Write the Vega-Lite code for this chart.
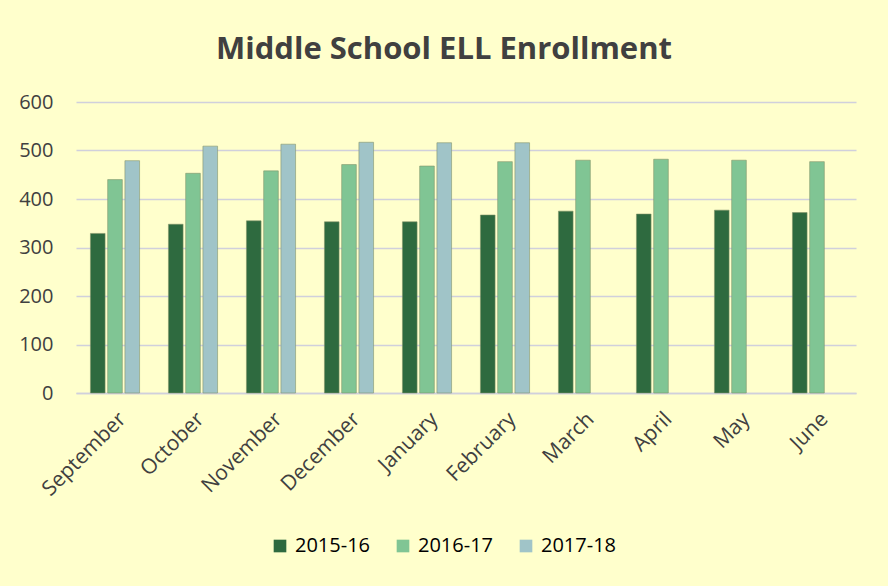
{
  "$schema": "https://vega.github.io/schema/vega-lite/v6.json",
  "autosize": "none",
  "width": 780,
  "height": 291,
  "padding": {"left": 76, "top": 102, "right": 32, "bottom": 193},
  "background": "#FFFFCC",
  "title": {
    "text": "Middle School ELL Enrollment",
    "font": "Open Sans",
    "fontSize": 31,
    "fontWeight": "bold",
    "color": "#404040",
    "anchor": "middle",
    "offset": 26,
    "dx": -22
  },
  "data": {
    "values": [
      {"month": "September", "year": "2015-16", "value": 329},
      {"month": "September", "year": "2016-17", "value": 440},
      {"month": "September", "year": "2017-18", "value": 479},
      {"month": "October", "year": "2015-16", "value": 348},
      {"month": "October", "year": "2016-17", "value": 453},
      {"month": "October", "year": "2017-18", "value": 509},
      {"month": "November", "year": "2015-16", "value": 355},
      {"month": "November", "year": "2016-17", "value": 458},
      {"month": "November", "year": "2017-18", "value": 513},
      {"month": "December", "year": "2015-16", "value": 353},
      {"month": "December", "year": "2016-17", "value": 471},
      {"month": "December", "year": "2017-18", "value": 517},
      {"month": "January", "year": "2015-16", "value": 353},
      {"month": "January", "year": "2016-17", "value": 468},
      {"month": "January", "year": "2017-18", "value": 516},
      {"month": "February", "year": "2015-16", "value": 367},
      {"month": "February", "year": "2016-17", "value": 477},
      {"month": "February", "year": "2017-18", "value": 516},
      {"month": "March", "year": "2015-16", "value": 375},
      {"month": "March", "year": "2016-17", "value": 480},
      {"month": "April", "year": "2015-16", "value": 369},
      {"month": "April", "year": "2016-17", "value": 482},
      {"month": "May", "year": "2015-16", "value": 377},
      {"month": "May", "year": "2016-17", "value": 480},
      {"month": "June", "year": "2015-16", "value": 372},
      {"month": "June", "year": "2016-17", "value": 477}
    ]
  },
  "mark": {"type": "bar", "stroke": "#7f8f66", "strokeWidth": 0.8, "strokeOpacity": 0.7},
  "encoding": {
    "x": {
      "field": "month",
      "type": "nominal",
      "sort": null,
      "title": null,
      "scale": {"paddingInner": 0.37, "paddingOuter": 0.185},
      "axis": {
        "labelAngle": -45,
        "labelFont": "Open Sans",
        "labelFontSize": 21,
        "labelColor": "#404040",
        "ticks": false,
        "domain": true,
        "domainColor": "#d0d0dc",
        "domainWidth": 1.5,
        "labelPadding": 15,
        "labelDx": -5,
        "labelDy": 2
      }
    },
    "xOffset": {
      "field": "year",
      "type": "nominal",
      "scale": {"paddingInner": 0.15}
    },
    "y": {
      "field": "value",
      "type": "quantitative",
      "title": null,
      "scale": {"domain": [0, 600]},
      "axis": {
        "values": [0, 100, 200, 300, 400, 500, 600],
        "labelFont": "Open Sans",
        "labelFontSize": 20,
        "labelColor": "#404040",
        "ticks": false,
        "domain": false,
        "gridColor": "#d0d0dc",
        "gridWidth": 1.5,
        "labelPadding": 23
      }
    },
    "color": {
      "field": "year",
      "type": "nominal",
      "scale": {
        "domain": ["2015-16", "2016-17", "2017-18"],
        "range": ["#2e6a3f", "#80c594", "#a0c4c8"]
      },
      "legend": {
        "title": null,
        "orient": "none",
        "direction": "horizontal",
        "legendX": 194,
        "legendY": 434,
        "symbolType": "square",
        "symbolSize": 160,
        "symbolStrokeWidth": 0,
        "labelFont": "Open Sans",
        "labelFontSize": 20,
        "labelColor": "#000000",
        "labelOffset": 5,
        "columnPadding": 22
      }
    }
  },
  "config": {
    "view": {"stroke": null}
  }
}
